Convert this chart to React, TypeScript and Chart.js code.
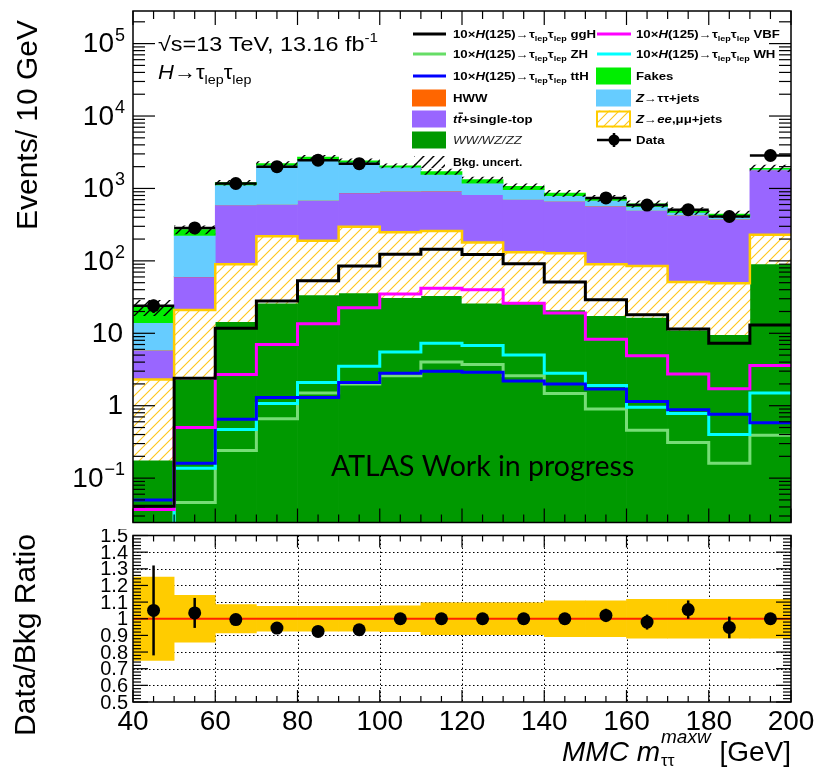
import React, { useEffect, useRef } from "react";
import { Chart, registerables } from "chart.js";

Chart.register(...registerables);

// ---------------- data ----------------
const binCenters = [45, 55, 65, 75, 85, 95, 105, 115, 125, 135, 145, 155, 165, 175, 185, 195];
const binEdges = [40, 50, 60, 70, 80, 90, 100, 110, 120, 130, 140, 150, 160, 170, 180, 190, 200];

// background components (stacked bottom -> top)
const bkgDiboson = [0.177, 2.3, 14.5, 26, 34, 36, 31, 33, 26, 26, 21, 17.5, 16.5, 11, 9.6, 91];
const bkgZll = [2.12, 18.7, 75.5, 192, 156, 261, 217, 225, 154, 106, 106, 72.5, 68.5, 40, 39.4, 139];
const bkgTop = [3.5, 39, 500, 382, 490, 573, 662, 662, 640, 568, 538, 480, 410, 374, 326, 1570];
const bkgHWW = [0.05, 0.3, 1.5, 3, 4, 4.5, 4.5, 4, 3.5, 3, 2.5, 2, 1.6, 1.3, 1, 3];
const bkgZtt = [8.2, 164, 530, 1490, 1770, 1430, 1050, 640, 360, 260, 125, 110, 70, 40, 35, 50];
const bkgFakes = [9, 46, 80, 110, 250, 100, 90, 140, 140, 110, 70, 50, 45, 25, 30, 50];

// 10x signal samples
const sigGGH = [0.041, 2.4, 11.7, 28, 53, 85, 123, 145, 122, 91, 51, 29, 18, 11.5, 7.3, 13];
const sigVBF = [0.037, 0.5, 2.7, 7, 13.5, 22.5, 35, 42, 40, 26, 19, 8.3, 4.9, 2.75, 1.72, 3.6];
const sigZH = [0.01, 0.046, 0.24, 0.66, 1.5, 2.0, 2.6, 4.0, 3.7, 2.6, 1.47, 0.9, 0.46, 0.31, 0.16, 0.39];
const sigWH = [0.012, 0.137, 0.47, 1.07, 2.1, 3.5, 5.5, 7.3, 6.8, 5.0, 2.8, 1.9, 0.95, 0.78, 0.4, 1.5];
const sigTTH = [0.05, 0.16, 0.65, 1.3, 1.3, 2.1, 2.8, 3.0, 2.9, 2.2, 2.0, 1.7, 1.14, 0.88, 0.76, 0.58];

// data (blinded bins are null)
const dataEvents = [24, 285, 1170, 2000, 2450, 2200, null, null, null, null, null, 740, 590, 510, 410, 2850];
const dataErr = [5, 17, 34, 45, 50, 47, null, null, null, null, null, 27, 24, 23, 20, 53];

// ratio panel
const ratioVals = [1.05, 1.035, 0.995, 0.944, 0.924, 0.934, 1, 1, 1, 1, 1, 1.02, 0.98, 1.055, 0.948, 1.0];
const ratioErr = [0.27, 0.09, 0.025, 0.02, 0.02, 0.02, 0.015, 0.015, 0.015, 0.015, 0.015, 0.04, 0.045, 0.055, 0.065, 0.02];
const bkgUncert = [0.25, 0.14, 0.085, 0.075, 0.075, 0.075, 0.077, 0.095, 0.095, 0.095, 0.107, 0.107, 0.116, 0.116, 0.116, 0.116];

// tick labels
const yLogTickExps = [-1, 0, 1, 2, 3, 4, 5];
const ratioTickLabels = ["1.5", "1.4", "1.3", "1.2", "1.1", "1", "0.9", "0.8", "0.7", "0.6", "0.5"];
const xTickLabels = ["40", "60", "80", "100", "120", "140", "160", "180", "200"];

// ---------------- helpers ----------------
const SANS = '"Liberation Sans", Arial, Helvetica, sans-serif';

type Seg = { t: string; font: string; dy?: number; over?: boolean; color?: string };

function drawSegs(ctx: CanvasRenderingContext2D, x: number, y: number, segs: Seg[], sx = 1) {
  ctx.save();
  ctx.translate(x, y);
  ctx.scale(sx, 1);
  let cx = 0;
  ctx.textAlign = "left";
  ctx.textBaseline = "alphabetic";
  for (const s of segs) {
    ctx.font = s.font;
    ctx.fillStyle = s.color || "#000";
    ctx.fillText(s.t, cx, s.dy || 0);
    const w = ctx.measureText(s.t).width;
    if (s.over) ctx.fillRect(cx + 1, (s.dy || 0) - 10.5, w, 1.3);
    cx += w;
  }
  ctx.restore();
  return x + cx * sx;
}

function makeHatch(color: string, bg: string | null, size: number, lw: number) {
  const c = document.createElement("canvas");
  c.width = size;
  c.height = size;
  const g = c.getContext("2d") as CanvasRenderingContext2D;
  if (bg) {
    g.fillStyle = bg;
    g.fillRect(0, 0, size, size);
  }
  g.strokeStyle = color;
  g.lineWidth = lw;
  g.beginPath();
  g.moveTo(0, size);
  g.lineTo(size, 0);
  g.moveTo(-size / 2, size / 2);
  g.lineTo(size / 2, -size / 2);
  g.moveTo(size / 2, size * 1.5);
  g.lineTo(size * 1.5, size / 2);
  g.stroke();
  return g.createPattern(c, "repeat") as CanvasPattern;
}

function seg(ctx: CanvasRenderingContext2D, x1: number, y1: number, x2: number, y2: number) {
  ctx.beginPath();
  ctx.moveTo(x1, y1);
  ctx.lineTo(x2, y2);
  ctx.stroke();
}

function xTickValues() {
  const major = xTickLabels.map(Number);
  const minor: number[] = [];
  for (let i = 0; i < major.length - 1; i++) {
    const step = (major[i + 1] - major[i]) / 4;
    for (let k = 1; k < 4; k++) minor.push(major[i] + k * step);
  }
  return { major, minor };
}

function stepData(vals: number[]) {
  return binEdges.map((x, i) => ({ x, y: vals[Math.min(i, vals.length - 1)] }));
}

// ---------------- component ----------------
export default function App() {
  const topRef = useRef<HTMLCanvasElement>(null);
  const botRef = useRef<HTMLCanvasElement>(null);

  useEffect(() => {
    if (!topRef.current || !botRef.current) return;
    const goldHatch = makeHatch("#ffc61a", "#ffffff", 10, 1.1);
    const blackHatch = makeHatch("#000000", null, 10, 1.4);

    const comps: { vals: number[]; bg: any }[] = [
      { vals: bkgDiboson, bg: "#009900" },
      { vals: bkgZll, bg: goldHatch },
      { vals: bkgTop, bg: "#9966ff" },
      { vals: bkgHWW, bg: "#ff6600" },
      { vals: bkgZtt, bg: "#66ccff" },
      { vals: bkgFakes, bg: "#00ee00" },
    ];
    let cum = binCenters.map(() => 0);
    const stackSets: any[] = comps.map((c, k) => {
      const lo = cum.slice();
      cum = cum.map((v, i) => v + c.vals[i]);
      const hi = cum.slice();
      return {
        type: "bar",
        data: binCenters.map((x, i) => ({ x, y: [lo[i] > 0 ? lo[i] : 1e-3, hi[i]] })),
        backgroundColor: c.bg,
        borderWidth: 0,
        grouped: false,
        barPercentage: 1,
        categoryPercentage: 1,
        order: 100 - k,
      };
    });
    const total = cum;
    const uncSet = {
      type: "bar",
      data: binCenters.map((x, i) => ({ x, y: [total[i] * (1 - bkgUncert[i]), total[i] * (1 + bkgUncert[i])] })),
      backgroundColor: blackHatch,
      borderWidth: 0,
      grouped: false,
      barPercentage: 1,
      categoryPercentage: 1,
      inflateAmount: 0,
      order: 60,
    };
    const zllTop = bkgDiboson.map((v, i) => v + bkgZll[i]);
    const lineDs = (vals: number[], color: string, w: number, order: number) => ({
      type: "line",
      data: stepData(vals),
      borderColor: color,
      borderWidth: w,
      pointRadius: 0,
      stepped: true,
      fill: false,
      order,
    });

    const topPlugin = {
      id: "topDecor",
      afterDatasetsDraw(chart: any) {
        const ctx = chart.ctx as CanvasRenderingContext2D;
        const xs = chart.scales.x;
        const ys = chart.scales.y;
        const ca = chart.chartArea;
        ctx.save();
        ctx.beginPath();
        ctx.rect(ca.left, ca.top, ca.right - ca.left, ca.bottom - ca.top);
        ctx.clip();
        ctx.strokeStyle = "#000";
        ctx.lineWidth = 2.5;
        dataEvents.forEach((v, i) => {
          if (v == null) return;
          const y = ys.getPixelForValue(v);
          seg(ctx, xs.getPixelForValue(binEdges[i]), y, xs.getPixelForValue(binEdges[i + 1]), y);
          const e = dataErr[i] || 0;
          const x = xs.getPixelForValue(binCenters[i]);
          seg(ctx, x, ys.getPixelForValue(v - e), x, ys.getPixelForValue(v + e));
        });
        ctx.restore();
      },
      afterDraw(chart: any) {
        const ctx = chart.ctx as CanvasRenderingContext2D;
        const xs = chart.scales.x;
        const ys = chart.scales.y;
        const ca = chart.chartArea;
        ctx.save();
        // frame
        ctx.strokeStyle = "#000";
        ctx.lineWidth = 1.5;
        ctx.strokeRect(ca.left, ca.top, ca.right - ca.left, ca.bottom - ca.top);
        // x ticks
        ctx.lineWidth = 1.2;
        const { major, minor } = xTickValues();
        major.forEach((v) => {
          const px = xs.getPixelForValue(v);
          seg(ctx, px, ca.bottom, px, ca.bottom - 14);
          seg(ctx, px, ca.top, px, ca.top + 14);
        });
        minor.forEach((v) => {
          const px = xs.getPixelForValue(v);
          seg(ctx, px, ca.bottom, px, ca.bottom - 8);
          seg(ctx, px, ca.top, px, ca.top + 8);
        });
        // y ticks (log)
        const lo = Math.floor(Math.log10(ys.min));
        const hi = Math.ceil(Math.log10(ys.max));
        for (let e = lo; e <= hi; e++) {
          for (let m = 1; m <= 9; m++) {
            const v = m * Math.pow(10, e);
            if (v < ys.min || v > ys.max) continue;
            const py = ys.getPixelForValue(v);
            const L = m === 1 ? 22 : 12;
            seg(ctx, ca.left, py, ca.left + L, py);
            seg(ctx, ca.right, py, ca.right - L, py);
          }
        }
        // y labels
        ctx.fillStyle = "#000";
        yLogTickExps.forEach((e) => {
          const py = ys.getPixelForValue(Math.pow(10, e));
          ctx.textBaseline = "middle";
          ctx.textAlign = "right";
          if (e === 0 || e === 1) {
            ctx.font = `28px ${SANS}`;
            ctx.fillText(e === 0 ? "1" : "10", 123, py + 1);
          } else {
            const ex = e < 0 ? "\u2212" + String(-e) : String(e);
            ctx.font = `18px ${SANS}`;
            const ew = ctx.measureText(ex).width;
            ctx.fillText(ex, 125, py - 8);
            ctx.font = `28px ${SANS}`;
            ctx.fillText("10", 125 - ew - 1, py + 1);
          }
        });
        // y title
        ctx.save();
        ctx.translate(37, 125);
        ctx.rotate(-Math.PI / 2);
        ctx.textAlign = "center";
        ctx.textBaseline = "alphabetic";
        ctx.font = `30px ${SANS}`;
        ctx.fillText("Events/ 10 GeV", 0, 0);
        ctx.restore();

        // top-left labels
        drawSegs(ctx, 158, 51, [
          { t: "\u221As=13 TeV, 13.16 fb", font: `20px ${SANS}` },
          { t: "-1", font: `13px ${SANS}`, dy: -9 },
        ], 1.17);
        drawSegs(ctx, 158, 79, [
          { t: "H", font: `italic 20px ${SANS}` },
          { t: "\u2192\u03C4", font: `20px ${SANS}` },
          { t: "lep", font: `13px ${SANS}`, dy: 5 },
          { t: "\u03C4", font: `20px ${SANS}` },
          { t: "lep", font: `13px ${SANS}`, dy: 5 },
        ], 1.1);

        // ATLAS label
        ctx.font = `28.5px Lato, "Open Sans", sans-serif`;
        ctx.fillStyle = "#000";
        ctx.textAlign = "left";
        ctx.textBaseline = "alphabetic";
        ctx.fillText("ATLAS Work in progress", 331, 476);

        // legend
        const LB = `bold 11px ${SANS}`;
        const LBI = `italic bold 11px ${SANS}`;
        const LI = `italic 11px ${SANS}`;
        const LS = `bold 7.5px ${SANS}`;
        const SX = 1.2;
        const sigLabel = (tag: string): Seg[] => [
          { t: "10\u00D7", font: LB },
          { t: "H", font: LBI },
          { t: "(125)\u2192\u03C4", font: LB },
          { t: "lep", font: LS, dy: 3 },
          { t: "\u03C4", font: LB },
          { t: "lep", font: LS, dy: 3 },
          { t: " " + tag, font: LB },
        ];
        const rows = [34, 54, 76, 98, 119, 140, 162];
        const L0 = 413, L1 = 446, LT = 453;
        const R0 = 597, R1 = 631, RT = 636;
        const lineMark = (x0: number, x1: number, y: number, col: string) => {
          ctx.strokeStyle = col;
          ctx.lineWidth = 3;
          seg(ctx, x0, y, x1, y);
        };
        const boxMark = (x0: number, x1: number, y: number, fill: any, border?: string) => {
          ctx.fillStyle = fill;
          ctx.fillRect(x0, y - 8.5, x1 - x0, 17);
          if (border) {
            ctx.strokeStyle = border;
            ctx.lineWidth = 2;
            ctx.strokeRect(x0 + 1, y - 7.5, x1 - x0 - 2, 15);
          }
        };
        // left column
        lineMark(L0, L1, rows[0], "#000000");
        drawSegs(ctx, LT, rows[0] + 4, sigLabel("ggH"), SX);
        lineMark(L0, L1, rows[1], "#66dd66");
        drawSegs(ctx, LT, rows[1] + 4, sigLabel("ZH"), SX);
        lineMark(L0, L1, rows[2], "#0000ff");
        drawSegs(ctx, LT, rows[2] + 4, sigLabel("ttH"), SX);
        boxMark(L0 - 1, L1, rows[3], "#ff6600");
        drawSegs(ctx, LT, rows[3] + 4, [{ t: "HWW", font: LB }], SX);
        boxMark(L0 - 1, L1, rows[4], "#9966ff");
        drawSegs(ctx, LT, rows[4] + 4, [
          { t: "t", font: LBI },
          { t: "t", font: LBI, over: true },
          { t: "+single-top", font: LB },
        ], SX);
        boxMark(L0 - 1, L1, rows[5], "#009900");
        drawSegs(ctx, LT, rows[5] + 4, [{ t: "WW/WZ/ZZ", font: LI, color: "#222" }], SX);
        ctx.save();
        ctx.beginPath();
        ctx.rect(L0 + 1, rows[6] - 6, L1 - L0 - 2, 12);
        ctx.clip();
        ctx.fillStyle = blackHatch;
        ctx.fillRect(L0 + 1, rows[6] - 6, L1 - L0 - 2, 12);
        ctx.restore();
        drawSegs(ctx, LT, rows[6] + 4, [{ t: "Bkg. uncert.", font: `bold 10px ${SANS}` }], SX);
        // right column
        lineMark(R0, R1, rows[0], "#ff00ff");
        drawSegs(ctx, RT, rows[0] + 4, sigLabel("VBF"), SX);
        lineMark(R0, R1, rows[1], "#00ffff");
        drawSegs(ctx, RT, rows[1] + 4, sigLabel("WH"), SX);
        boxMark(R0 - 1, R1, rows[2], "#00ee00");
        drawSegs(ctx, RT, rows[2] + 4, [{ t: "Fakes", font: LB }], SX);
        boxMark(R0 - 1, R1, rows[3], "#66ccff");
        drawSegs(ctx, RT, rows[3] + 4, [
          { t: "Z", font: LBI },
          { t: "\u2192\u03C4\u03C4+jets", font: LB },
        ], SX);
        boxMark(R0 - 1, R1, rows[4], goldHatch, "#ffcc00");
        drawSegs(ctx, RT, rows[4] + 4, [
          { t: "Z", font: LBI },
          { t: "\u2192", font: LB },
          { t: "ee", font: LBI },
          { t: ",\u03BC\u03BC+jets", font: LB },
        ], SX);
        ctx.strokeStyle = "#000";
        ctx.lineWidth = 2.5;
        seg(ctx, R0, rows[5], R1, rows[5]);
        seg(ctx, (R0 + R1) / 2, rows[5] - 7, (R0 + R1) / 2, rows[5] + 7);
        ctx.fillStyle = "#000";
        ctx.beginPath();
        ctx.arc((R0 + R1) / 2, rows[5], 5.5, 0, Math.PI * 2);
        ctx.fill();
        drawSegs(ctx, RT, rows[5] + 4, [{ t: "Data", font: LB }], SX);
        ctx.restore();
      },
    };

    const topChart = new Chart(topRef.current, {
      type: "bar",
      data: {
        datasets: [
          ...stackSets,
          uncSet,
          lineDs(zllTop, "#ffcc00", 2.5, 40),
          lineDs(sigZH, "#77dd77", 3, 30),
          lineDs(sigWH, "#00ffff", 3, 28),
          lineDs(sigTTH, "#0000ff", 3, 26),
          lineDs(sigVBF, "#ff00ff", 3, 24),
          lineDs(sigGGH, "#000000", 3, 22),
          {
            type: "line",
            data: binCenters.map((x, i) => ({ x, y: dataEvents[i] })),
            showLine: false,
            pointRadius: 6.5,
            pointBackgroundColor: "#000",
            pointBorderWidth: 0,
            order: 0,
          },
        ] as any,
      },
      options: {
        responsive: false,
        maintainAspectRatio: false,
        animation: false,
        events: [],
        layout: { padding: { left: 133, right: 28, top: 11, bottom: 1 } },
        plugins: { legend: { display: false }, tooltip: { enabled: false } },
        scales: {
          x: { type: "linear", min: 40, max: 200, offset: false, display: false, ticks: { stepSize: 20 } },
          y: { type: "logarithmic", min: 0.0244, max: 2.82e5, display: false },
        },
      } as any,
      plugins: [topPlugin],
    });

    const ratioPlugin = {
      id: "ratioDecor",
      beforeDatasetsDraw(chart: any) {
        const ctx = chart.ctx as CanvasRenderingContext2D;
        const xs = chart.scales.x;
        const ys = chart.scales.y;
        const ca = chart.chartArea;
        ctx.save();
        ctx.strokeStyle = "#000";
        ctx.lineWidth = 1;
        ctx.setLineDash([1.5, 2.5]);
        ratioTickLabels.forEach((l) => {
          const v = Number(l);
          if (v === 1 || v <= 0.5 || v >= 1.5) return;
          const py = Math.round(ys.getPixelForValue(v)) + 0.5;
          seg(ctx, ca.left, py, ca.right, py);
        });
        xTickLabels.forEach((l) => {
          const v = Number(l);
          if (v <= 40 || v >= 200) return;
          const px = Math.round(xs.getPixelForValue(v)) + 0.5;
          seg(ctx, px, ca.top, px, ca.bottom);
        });
        ctx.restore();
      },
      afterDatasetsDraw(chart: any) {
        const ctx = chart.ctx as CanvasRenderingContext2D;
        const xs = chart.scales.x;
        const ys = chart.scales.y;
        ctx.save();
        ctx.strokeStyle = "#000";
        ctx.lineWidth = 2.5;
        ratioVals.forEach((v, i) => {
          const x = xs.getPixelForValue(binCenters[i]);
          seg(ctx, x, ys.getPixelForValue(v - ratioErr[i]), x, ys.getPixelForValue(v + ratioErr[i]));
        });
        ctx.restore();
      },
      afterDraw(chart: any) {
        const ctx = chart.ctx as CanvasRenderingContext2D;
        const xs = chart.scales.x;
        const ys = chart.scales.y;
        const ca = chart.chartArea;
        ctx.save();
        ctx.strokeStyle = "#000";
        ctx.lineWidth = 1.5;
        ctx.strokeRect(ca.left, ca.top, ca.right - ca.left, ca.bottom - ca.top);
        ctx.lineWidth = 1.2;
        const { major, minor } = xTickValues();
        major.forEach((v) => {
          const px = xs.getPixelForValue(v);
          seg(ctx, px, ca.bottom, px, ca.bottom - 12);
          seg(ctx, px, ca.top, px, ca.top + 12);
        });
        minor.forEach((v) => {
          const px = xs.getPixelForValue(v);
          seg(ctx, px, ca.bottom, px, ca.bottom - 6);
          seg(ctx, px, ca.top, px, ca.top + 6);
        });
        for (let k = 25; k <= 75; k++) {
          const v = k / 50;
          const py = ys.getPixelForValue(v);
          const L = k % 5 === 0 ? 15 : 8;
          seg(ctx, ca.left, py, ca.left + L, py);
          seg(ctx, ca.right, py, ca.right - L, py);
        }
        // labels
        ctx.fillStyle = "#000";
        ctx.font = `20px ${SANS}`;
        ctx.textAlign = "right";
        ctx.textBaseline = "middle";
        ratioTickLabels.forEach((l) => {
          ctx.fillText(l, 128, ys.getPixelForValue(Number(l)) + 1);
        });
        ctx.font = `28px ${SANS}`;
        ctx.textAlign = "center";
        ctx.textBaseline = "alphabetic";
        xTickLabels.forEach((l) => {
          ctx.fillText(l, xs.getPixelForValue(Number(l)), 730 - 529);
        });
        // y title
        ctx.save();
        ctx.translate(35, 635 - 529);
        ctx.rotate(-Math.PI / 2);
        ctx.textAlign = "center";
        ctx.textBaseline = "alphabetic";
        ctx.font = `30px ${SANS}`;
        ctx.fillText("Data/Bkg Ratio", 0, 0);
        ctx.restore();
        // x title
        const base = 761 - 529;
        const fMain = `italic 28px ${SANS}`;
        const fSup = `italic 19px ${SANS}`;
        const fSub = `17px ${SANS}`;
        const fUp = `28px ${SANS}`;
        ctx.font = fMain;
        const w1 = ctx.measureText("MMC m").width;
        ctx.font = fSup;
        const wSup = ctx.measureText("maxw").width;
        ctx.font = fSub;
        const wSub = ctx.measureText("\u03C4\u03C4").width;
        ctx.font = fUp;
        const w3 = ctx.measureText(" [GeV]").width;
        const totalW = w1 + Math.max(wSup, wSub) + 2 + w3;
        let x0 = 791 - totalW;
        ctx.textAlign = "left";
        ctx.font = fMain;
        ctx.fillText("MMC m", x0, base);
        x0 += w1 + 1;
        ctx.font = fSup;
        ctx.fillText("maxw", x0, base - 18);
        ctx.font = fSub;
        ctx.fillText("\u03C4\u03C4", x0, base + 5);
        x0 += Math.max(wSup, wSub) + 1;
        ctx.font = fUp;
        ctx.fillText(" [GeV]", x0, base);
        ctx.restore();
      },
    };

    const botChart = new Chart(botRef.current, {
      type: "bar",
      data: {
        datasets: [
          {
            type: "bar",
            data: binCenters.map((x, i) => ({ x, y: [1 - bkgUncert[i], 1 + bkgUncert[i]] })),
            backgroundColor: "#ffcc00",
            borderWidth: 0,
            grouped: false,
            barPercentage: 1,
            categoryPercentage: 1,
            order: 10,
          },
          {
            type: "line",
            data: [
              { x: 40, y: 1 },
              { x: 200, y: 1 },
            ],
            borderColor: "#ff2200",
            borderWidth: 2,
            pointRadius: 0,
            order: 5,
          },
          {
            type: "line",
            data: binCenters.map((x, i) => ({ x, y: ratioVals[i] })),
            showLine: false,
            pointRadius: 6.5,
            pointBackgroundColor: "#000",
            pointBorderWidth: 0,
            order: 0,
          },
        ] as any,
      },
      options: {
        responsive: false,
        maintainAspectRatio: false,
        animation: false,
        events: [],
        layout: { padding: { left: 133, right: 28, top: 1, bottom: 66 } },
        plugins: { legend: { display: false }, tooltip: { enabled: false } },
        scales: {
          x: { type: "linear", min: 40, max: 200, offset: false, display: false, ticks: { stepSize: 20 } },
          y: { type: "linear", min: 0.5, max: 1.5, display: false },
        },
      } as any,
      plugins: [ratioPlugin],
    });

    return () => {
      topChart.destroy();
      botChart.destroy();
    };
  }, []);

  return (
    <div style={{ position: "fixed", left: 0, top: 0, width: 819, height: 768, background: "#fff" }}>
      <canvas
        ref={topRef}
        width={819}
        height={529}
        style={{ position: "absolute", left: 0, top: 0, width: 819, height: 529 }}
      />
      <canvas
        ref={botRef}
        width={819}
        height={239}
        style={{ position: "absolute", left: 0, top: 529, width: 819, height: 239 }}
      />
    </div>
  );
}
